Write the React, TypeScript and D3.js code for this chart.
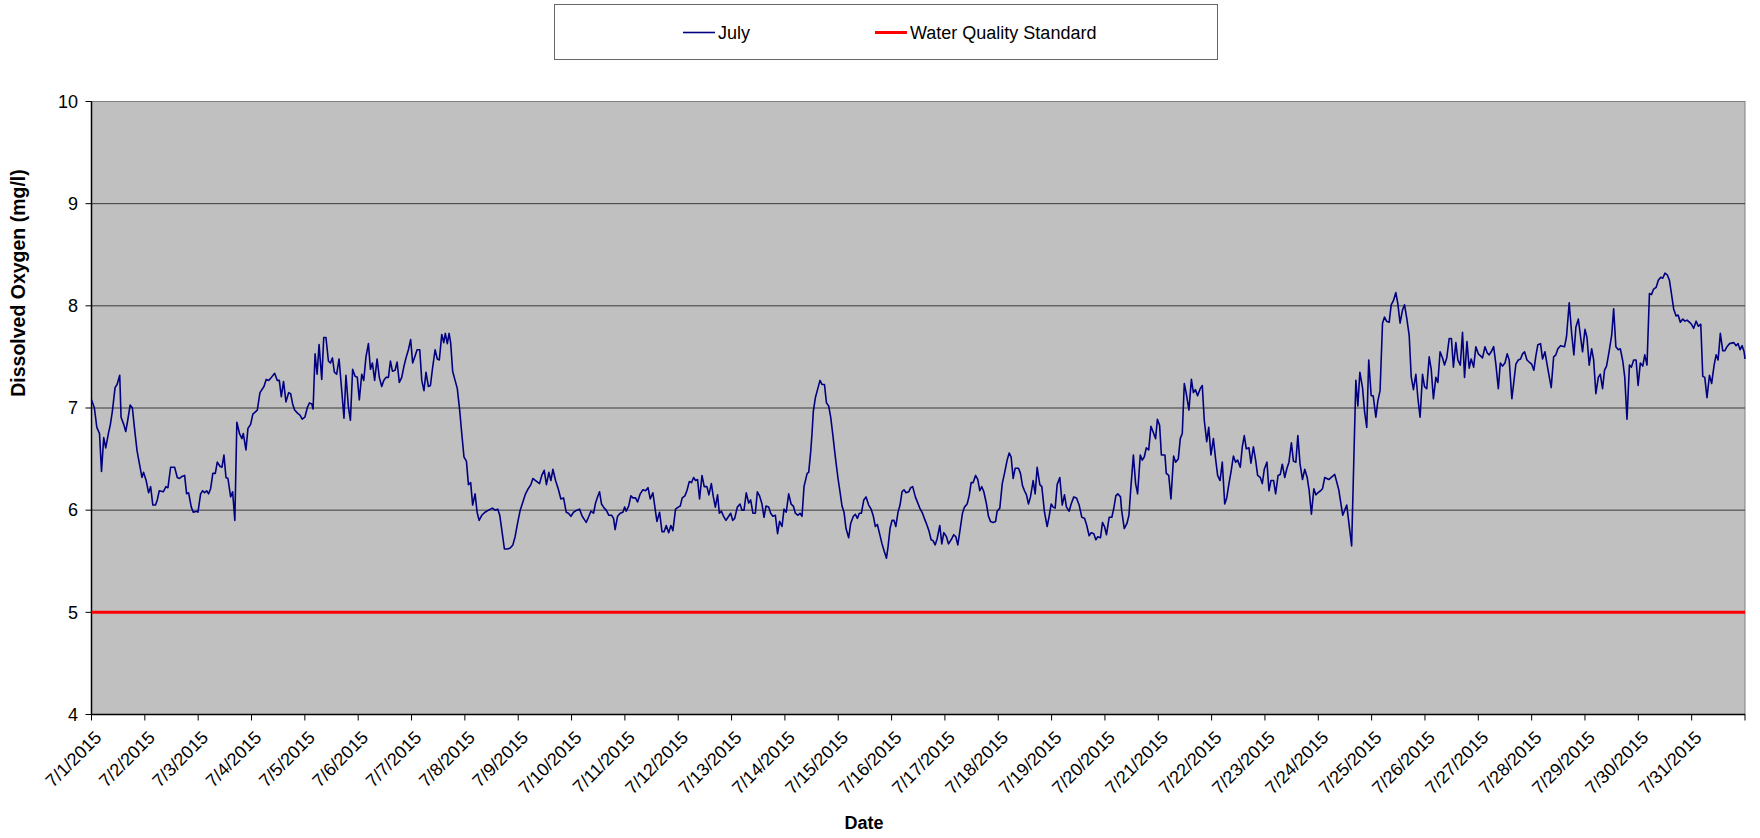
import React, { useEffect, useRef } from 'react';
import * as d3 from 'd3';

// readings: hours since 7/1/2015 00:00 and dissolved oxygen (mg/l)
const hoursFromStart = [
   0, 1.3, 2.4, 3.6, 4.5, 5.5, 6.4, 7.6, 8.5, 9.4, 10.6, 11.5, 12.7, 13.3, 14.5, 15.4, 16.3, 17.4, 18.4, 19.3,
   20.5, 21.6, 22.7, 23.4, 24.6, 25.7, 26.6, 27.6, 28.8, 29.6, 30.5, 32.3, 33.5, 34.4, 35.6, 37.4, 38.6, 39.6, 40.7, 41.9,
   42.8, 43.7, 44.9, 45.8, 47.3, 47.9, 49.1, 50.0, 50.9, 51.8, 52.7, 53.6, 54.6, 55.7, 56.6, 57.8, 58.7, 59.6, 60.5, 61.4,
   62.6, 63.5, 64.5, 65.4, 66.6, 67.7, 68.3, 69.5, 70.4, 71.6, 72.6, 74.6, 75.8, 77.6, 78.6, 79.7, 80.6, 82.4, 83.6, 84.5,
   85.4, 86.4, 87.5, 88.7, 89.6, 90.5, 91.4, 92.7, 93.8, 94.8, 96.0, 97.2, 98.1, 99.1, 99.7, 100.6, 101.5, 102.4, 103.6, 104.5,
   105.5, 106.6, 107.5, 108.4, 109.3, 110.3, 111.4, 112.6, 113.6, 114.5, 115.6, 116.5, 117.5, 118.6, 119.6, 120.5, 121.6, 122.5, 123.5, 124.6,
   125.5, 126.4, 127.4, 128.5, 129.5, 130.6, 131.5, 132.5, 133.6, 134.5, 135.4, 136.6, 137.5, 138.5, 139.6, 140.6, 141.5, 142.6, 143.6, 144.5,
   145.6, 146.5, 147.7, 148.6, 149.6, 150.5, 151.6, 152.5, 153.4, 154.6, 155.6, 156.5, 157.6, 158.5, 159.2, 160.1, 160.9, 161.6, 162.5, 163.6,
   164.6, 165.7, 166.6, 167.6, 168.7, 169.6, 170.6, 171.5, 172.6, 173.5, 174.4, 175.6, 177.1, 178.6, 180.4, 181.6, 182.8, 183.7, 184.6, 185.8,
   187.2, 188.4, 189.6, 190.6, 191.7, 192.9, 194.1, 195.3, 196.5, 197.7, 198.6, 199.8, 201.6, 202.6, 203.7, 204.7, 205.8, 206.7, 207.6, 208.8,
   210.0, 211.2, 212.4, 213.6, 214.6, 215.7, 216.9, 218.4, 219.6, 220.8, 221.7, 222.6, 223.8, 224.7, 225.9, 226.8, 227.7, 228.6, 229.5, 230.7,
   231.6, 232.8, 234.0, 234.9, 235.6, 236.7, 237.9, 239.1, 239.9, 240.6, 241.7, 242.7, 243.6, 244.8, 245.7, 246.9, 248.1, 249.3, 250.4, 251.4,
   252.6, 253.5, 254.4, 255.6, 256.7, 257.7, 258.6, 259.7, 260.7, 261.6, 262.8, 264.0, 264.9, 265.8, 267.0, 267.9, 269.0, 270.0, 270.9, 271.8,
   272.7, 273.6, 274.7, 275.7, 276.9, 277.8, 278.9, 279.8, 280.7, 281.7, 282.5, 283.4, 284.4, 285.5, 286.7, 287.6, 288.5, 289.4, 290.6, 291.8,
   292.7, 293.6, 294.6, 295.7, 296.6, 297.6, 298.7, 299.6, 300.6, 301.7, 302.6, 303.5, 304.7, 305.6, 306.6, 307.7, 308.7, 309.6, 310.7, 311.6,
   312.6, 313.7, 314.8, 315.8, 316.7, 317.9, 318.8, 319.7, 320.6, 322.0, 322.7, 323.6, 324.2, 324.8, 325.7, 326.8, 327.8, 328.7, 329.8, 330.7,
   331.7, 332.6, 333.5, 334.7, 335.9, 336.8, 337.7, 338.6, 339.5, 340.7, 341.6, 342.8, 343.7, 344.6, 345.5, 346.4, 347.5, 348.5, 349.7, 350.8,
   351.8, 352.7, 353.6, 354.7, 355.7, 356.8, 357.7, 358.4, 359.3, 360.2, 361.1, 361.9, 362.9, 363.8, 364.7, 365.6, 366.5, 367.7, 368.6, 369.5,
   370.7, 372.7, 373.9, 375.1, 376.0, 376.9, 377.8, 378.7, 379.6, 380.5, 381.7, 382.6, 383.5, 384.7, 385.6, 386.8, 388.0, 388.9, 389.8, 390.7,
   391.9, 392.8, 394.0, 394.9, 395.8, 396.7, 397.8, 398.8, 399.7, 400.6, 401.5, 402.7, 403.6, 404.5, 405.7, 406.8, 407.5, 408.7, 409.8, 410.8,
   412.0, 412.9, 413.8, 414.7, 415.6, 417.1, 418.0, 418.9, 419.8, 420.7, 421.6, 422.5, 423.7, 424.6, 425.5, 426.7, 427.6, 428.8, 430.0, 430.9,
   431.8, 432.7, 433.6, 434.5, 435.7, 436.8, 437.8, 438.7, 439.9, 440.8, 442.0, 443.2, 444.4, 445.6, 446.8, 447.7, 448.9, 449.8, 451.0, 451.9,
   452.8, 454.0, 454.9, 455.8, 456.7, 457.9, 459.1, 460.0, 460.9, 461.8, 463.0, 463.5, 464.7, 465.9, 466.8, 467.7, 468.8, 469.8, 470.7, 471.9,
   472.8, 473.7, 474.6, 475.7, 476.7, 477.6, 478.8, 479.6, 480.6, 481.4, 483.0, 483.6, 484.7, 485.7, 486.9, 487.8, 489.0, 489.9, 490.8, 491.7,
   492.6, 493.8, 494.9, 495.8, 496.7, 497.7, 498.9, 499.8, 500.7, 501.8, 502.7, 503.7, 504.8, 505.8, 506.7, 507.8, 508.8, 509.9, 510.8, 511.8,
   512.7, 513.8, 514.8, 515.7, 516.9, 517.8, 518.7, 519.6, 520.8, 521.7, 522.8, 523.8, 524.7, 525.9, 526.8, 527.7, 528.9, 529.8, 530.7, 531.9,
   532.8, 533.9, 534.9, 535.8, 536.9, 537.9, 538.8, 539.9, 540.8, 541.9, 542.8, 543.8, 544.9, 545.9, 547.0, 547.9, 548.9, 550.0, 550.9, 551.8,
   553.0, 553.9, 554.9, 556.7, 559.4, 561.2, 563.0, 564.8, 567.0, 568.9, 569.8, 570.7, 571.9, 572.8, 573.8, 574.7, 575.8, 576.7, 577.9, 578.8,
   579.8, 580.9, 581.8, 582.7, 583.9, 584.8, 585.8, 586.9, 587.8, 588.8, 589.9, 590.8, 591.8, 592.9, 593.8, 594.8, 595.9, 596.8, 597.8, 598.9,
   599.8, 600.8, 601.9, 602.8, 603.8, 604.9, 605.8, 606.8, 607.9, 608.8, 609.8, 610.9, 611.9, 612.8, 613.9, 614.8, 615.9, 616.9, 617.8, 618.9,
   619.9, 620.8, 621.9, 622.9, 624.0, 625.0, 625.9, 627.0, 628.0, 628.9, 629.8, 630.9, 631.9, 633.0, 633.9, 634.9, 636.0, 637.0, 637.9, 639.1,
   639.9, 640.9, 642.0, 643.0, 643.9, 644.8, 645.9, 646.9, 648.0, 649.0, 649.9, 650.8, 652.0, 652.9, 654.0, 655.0, 655.9, 656.8, 657.9, 658.9,
   659.8, 661.0, 662.8, 663.7, 664.9, 666.0, 667.0, 667.9, 669.0, 670.0, 670.9, 672.0, 672.9, 673.9, 675.0, 675.9, 676.9, 678.0, 678.9, 679.9,
   680.8, 681.7, 682.9, 684.0, 684.9, 685.9, 687.0, 687.9, 689.0, 689.9, 690.9, 692.0, 692.9, 693.9, 695.0, 695.9, 696.9, 698.0, 698.9, 699.9,
   701.0, 701.9, 702.8, 704.0, 705.0, 706.1, 707.0, 708.0, 709.1, 710.0, 710.9, 711.9, 713.0, 713.9, 714.9, 716.0, 717.0, 717.9, 719.0, 719.9,
   720.9, 722.0, 723.0, 724.1, 725.0, 725.9, 726.9, 728.0, 729.0, 730.1, 731.0, 731.9, 732.9, 734.0, 734.9, 735.9, 737.0, 738.9, 740.0, 740.9,
   741.8, 742.7, 743.6, 744.0
];

const dissolvedOxygen = [
   7.08, 7.0, 6.81, 6.75, 6.38, 6.71, 6.61, 6.75, 6.84, 6.97, 7.2, 7.23, 7.32, 6.91, 6.84, 6.77, 6.88, 7.03, 7.0, 6.81,
   6.58, 6.45, 6.32, 6.37, 6.29, 6.17, 6.23, 6.05, 6.05, 6.10, 6.19, 6.18, 6.23, 6.22, 6.42, 6.42, 6.32, 6.31, 6.33, 6.34,
   6.16, 6.17, 6.03, 5.98, 5.99, 5.98, 6.16, 6.19, 6.17, 6.19, 6.16, 6.21, 6.36, 6.36, 6.47, 6.43, 6.42, 6.54, 6.32, 6.31,
   6.13, 6.18, 5.90, 6.86, 6.75, 6.70, 6.75, 6.59, 6.80, 6.84, 6.94, 6.98, 7.15, 7.21, 7.28, 7.27, 7.29, 7.34, 7.27, 7.27,
   7.11, 7.26, 7.06, 7.15, 7.14, 7.04, 6.98, 6.95, 6.93, 6.89, 6.91, 7.01, 7.05, 7.04, 6.99, 7.53, 7.33, 7.62, 7.28, 7.69,
   7.69, 7.46, 7.44, 7.49, 7.35, 7.33, 7.48, 7.17, 6.90, 7.32, 7.01, 6.88, 7.38, 7.31, 7.30, 7.08, 7.33, 7.27, 7.50, 7.63,
   7.38, 7.44, 7.27, 7.48, 7.30, 7.21, 7.27, 7.30, 7.30, 7.46, 7.36, 7.37, 7.45, 7.25, 7.30, 7.41, 7.49, 7.57, 7.67, 7.44,
   7.51, 7.57, 7.57, 7.27, 7.17, 7.35, 7.21, 7.22, 7.38, 7.57, 7.48, 7.47, 7.72, 7.64, 7.73, 7.63, 7.73, 7.64, 7.36, 7.27,
   7.19, 6.97, 6.75, 6.52, 6.48, 6.25, 6.27, 6.05, 6.16, 5.98, 5.90, 5.95, 5.98, 6.00, 6.02, 6.00, 6.01, 5.95, 5.81, 5.62,
   5.62, 5.63, 5.66, 5.74, 5.87, 6.00, 6.08, 6.16, 6.21, 6.25, 6.31, 6.29, 6.26, 6.34, 6.39, 6.25, 6.37, 6.29, 6.40, 6.29,
   6.21, 6.11, 6.12, 5.98, 5.97, 5.94, 5.98, 6.00, 6.01, 5.94, 5.91, 5.88, 5.94, 5.99, 5.97, 6.07, 6.13, 6.18, 6.06, 6.02,
   6.00, 5.95, 5.95, 5.92, 5.81, 5.94, 5.97, 5.98, 6.03, 5.99, 6.04, 6.14, 6.12, 6.12, 6.08, 6.16, 6.20, 6.19, 6.22, 6.11,
   6.17, 6.03, 5.89, 5.98, 5.79, 5.79, 5.85, 5.78, 5.85, 5.80, 6.01, 6.03, 6.04, 6.12, 6.14, 6.19, 6.28, 6.27, 6.32, 6.29,
   6.30, 6.11, 6.34, 6.23, 6.23, 6.15, 6.26, 6.13, 6.03, 6.15, 5.97, 5.99, 5.94, 5.90, 5.94, 5.97, 5.90, 5.92, 6.03, 6.06,
   6.00, 6.00, 6.17, 6.07, 6.10, 5.97, 5.97, 6.18, 6.14, 6.06, 5.93, 6.04, 6.03, 5.97, 5.94, 5.95, 5.77, 5.89, 5.84, 6.01,
   5.98, 6.16, 6.06, 6.04, 5.97, 5.95, 5.97, 5.94, 6.23, 6.36, 6.37, 6.57, 6.75, 6.97, 7.10, 7.19, 7.27, 7.23, 7.23, 7.05,
   7.02, 6.91, 6.75, 6.52, 6.31, 6.18, 6.04, 5.98, 5.82, 5.73, 5.87, 5.94, 5.96, 5.92, 5.97, 5.97, 6.10, 6.13, 6.05, 6.01,
   5.94, 5.84, 5.86, 5.76, 5.67, 5.59, 5.53, 5.64, 5.82, 5.90, 5.90, 5.84, 5.98, 6.05, 6.18, 6.20, 6.17, 6.18, 6.22, 6.23,
   6.13, 6.02, 5.97, 5.90, 5.85, 5.79, 5.71, 5.70, 5.66, 5.72, 5.85, 5.67, 5.78, 5.74, 5.67, 5.71, 5.76, 5.74, 5.66, 5.79,
   5.97, 6.03, 6.06, 6.14, 6.27, 6.27, 6.34, 6.30, 6.19, 6.23, 6.18, 6.06, 5.94, 5.89, 5.88, 5.89, 5.99, 6.02, 6.26, 6.36,
   6.49, 6.56, 6.52, 6.31, 6.41, 6.41, 6.36, 6.24, 6.19, 6.15, 6.06, 6.13, 6.29, 6.16, 6.42, 6.25, 6.23, 5.98, 5.84, 5.94,
   6.06, 6.03, 6.02, 6.25, 6.32, 6.05, 6.15, 6.03, 5.99, 6.06, 6.13, 6.12, 6.05, 5.93, 5.92, 5.86, 5.75, 5.78, 5.77, 5.71,
   5.74, 5.73, 5.88, 5.84, 5.76, 5.93, 5.93, 6.02, 6.14, 6.16, 6.13, 6.00, 5.82, 5.87, 5.95, 6.23, 6.54, 6.26, 6.16, 6.54,
   6.49, 6.52, 6.61, 6.59, 6.82, 6.77, 6.70, 6.89, 6.83, 6.54, 6.54, 6.36, 6.34, 6.11, 6.53, 6.47, 6.50, 6.70, 6.75, 7.24,
   7.14, 6.98, 7.28, 7.15, 7.18, 7.12, 7.19, 7.22, 6.88, 6.67, 6.81, 6.54, 6.70, 6.50, 6.34, 6.29, 6.47, 6.06, 6.12, 6.26,
   6.37, 6.53, 6.47, 6.49, 6.42, 6.62, 6.73, 6.60, 6.61, 6.46, 6.62, 6.49, 6.34, 6.32, 6.26, 6.40, 6.47, 6.19, 6.29, 6.29,
   6.16, 6.34, 6.35, 6.45, 6.32, 6.41, 6.47, 6.66, 6.48, 6.47, 6.73, 6.45, 6.30, 6.40, 6.32, 6.19, 5.96, 6.21, 6.15, 6.17,
   6.19, 6.21, 6.32, 6.30, 6.35, 6.20, 5.95, 6.05, 5.65, 7.27, 7.02, 7.35, 7.20, 6.97, 6.81, 7.47, 7.12, 7.12, 6.91, 7.07,
   7.17, 7.83, 7.89, 7.85, 7.84, 8.01, 8.05, 8.13, 8.02, 7.83, 7.96, 8.01, 7.88, 7.71, 7.31, 7.18, 7.33, 7.10, 6.91, 7.33,
   7.21, 7.19, 7.50, 7.38, 7.09, 7.30, 7.25, 7.55, 7.49, 7.42, 7.49, 7.68, 7.68, 7.40, 7.64, 7.47, 7.42, 7.74, 7.30, 7.65,
   7.39, 7.48, 7.40, 7.60, 7.53, 7.51, 7.49, 7.60, 7.54, 7.52, 7.55, 7.60, 7.43, 7.19, 7.44, 7.41, 7.44, 7.53, 7.47, 7.09,
   7.24, 7.43, 7.47, 7.48, 7.53, 7.55, 7.47, 7.45, 7.43, 7.37, 7.51, 7.62, 7.63, 7.48, 7.55, 7.42, 7.31, 7.20, 7.50, 7.52,
   7.58, 7.61, 7.60, 7.70, 8.03, 7.73, 7.52, 7.79, 7.87, 7.70, 7.55, 7.77, 7.69, 7.42, 7.58, 7.47, 7.14, 7.30, 7.33, 7.19,
   7.37, 7.41, 7.56, 7.71, 7.97, 7.60, 7.57, 7.58, 7.46, 7.30, 6.89, 7.42, 7.40, 7.47, 7.47, 7.22, 7.44, 7.41, 7.52, 7.42,
   8.12, 8.11, 8.16, 8.18, 8.25, 8.28, 8.27, 8.32, 8.30, 8.25, 8.12, 7.97, 7.90, 7.91, 7.84, 7.87, 7.85, 7.86, 7.84, 7.82,
   7.78, 7.85, 7.80, 7.82, 7.31, 7.30, 7.10, 7.32, 7.24, 7.42, 7.52, 7.47, 7.73, 7.56, 7.56, 7.60, 7.63, 7.64, 7.61, 7.63,
   7.57, 7.61, 7.55, 7.48
];

const yTicks = [4, 5, 6, 7, 8, 9, 10];
const waterQualityStandard = 5;
const seriesNames = ['July', 'Water Quality Standard'];
const monthStart = new Date(2015, 6, 1);
const monthEnd = new Date(2015, 7, 1);

const App = () => {
   const svgRef = useRef(null);

   useEffect(() => {
      const svg = d3.select(svgRef.current);
      svg.selectAll('*').remove();

      const left = 91.5, right = 1745, top = 101.5, bottom = 714.5;
      const font = 'Liberation Sans, Arial, sans-serif';

      const x = d3.scaleTime().domain([monthStart, monthEnd]).range([left, right]);
      const y = d3.scaleLinear().domain([4, 10]).range([bottom, top]);

      const data = hoursFromStart.map((h, i) => ({
         t: new Date(monthStart.getTime() + h * 3600 * 1000),
         v: dissolvedOxygen[i]
      }));

      // plot area
      svg.append('rect')
         .attr('x', left).attr('y', top)
         .attr('width', right - left).attr('height', bottom - top)
         .attr('fill', '#c0c0c0')
         .attr('stroke', '#808080')
         .attr('stroke-width', 1);

      // gridlines
      svg.append('g')
         .selectAll('line')
         .data(yTicks.filter(d => d > 4 && d < 10))
         .enter()
         .append('line')
         .attr('x1', left).attr('x2', right)
         .attr('y1', d => y(d)).attr('y2', d => y(d))
         .attr('stroke', '#3a3a3a')
         .attr('stroke-width', 1);

      // y axis
      const yAxis = svg.append('g');
      yAxis.append('line')
         .attr('x1', left).attr('x2', left).attr('y1', top).attr('y2', bottom)
         .attr('stroke', '#000').attr('stroke-width', 1.5);
      yAxis.selectAll('.tick')
         .data(yTicks)
         .enter()
         .append('line')
         .attr('x1', left - 6).attr('x2', left)
         .attr('y1', d => y(d)).attr('y2', d => y(d))
         .attr('stroke', '#000');
      yAxis.selectAll('text')
         .data(yTicks)
         .enter()
         .append('text')
         .attr('x', 78).attr('y', d => y(d))
         .attr('dy', '0.35em')
         .attr('text-anchor', 'end')
         .attr('font-family', font)
         .attr('font-size', 18)
         .attr('fill', '#000')
         .text(d => d);

      // x axis
      const days = d3.timeDay.range(monthStart, monthEnd);
      const fmt = d3.timeFormat('%-m/%-d/%Y');
      const xAxis = svg.append('g');
      xAxis.append('line')
         .attr('x1', left).attr('x2', right).attr('y1', bottom).attr('y2', bottom)
         .attr('stroke', '#000').attr('stroke-width', 1.5);
      xAxis.selectAll('.tick')
         .data([...days, monthEnd])
         .enter()
         .append('line')
         .attr('x1', d => x(d)).attr('x2', d => x(d))
         .attr('y1', bottom).attr('y2', bottom + 6)
         .attr('stroke', '#000');
      xAxis.selectAll('text')
         .data(days)
         .enter()
         .append('text')
         .attr('transform', d => `translate(${x(d) + 2},${bottom + 15}) rotate(-45)`)
         .attr('dy', '0.72em')
         .attr('text-anchor', 'end')
         .attr('font-family', font)
         .attr('font-size', 18)
         .attr('fill', '#000')
         .text(d => fmt(d));

      // standard line
      svg.append('line')
         .attr('x1', left).attr('x2', right)
         .attr('y1', y(waterQualityStandard)).attr('y2', y(waterQualityStandard))
         .attr('stroke', '#ff0000')
         .attr('stroke-width', 3);

      // July series
      const line = d3.line()
         .x(d => x(d.t))
         .y(d => y(d.v));
      svg.append('path')
         .datum(data)
         .attr('d', line)
         .attr('fill', 'none')
         .attr('stroke', '#000080')
         .attr('stroke-width', 1.6)
         .attr('stroke-linejoin', 'round');

      // axis titles
      svg.append('text')
         .attr('transform', 'translate(25,283) rotate(-90)')
         .attr('text-anchor', 'middle')
         .attr('font-family', font)
         .attr('font-size', 19.5)
         .attr('font-weight', 'bold')
         .text('Dissolved Oxygen (mg/l)');
      svg.append('text')
         .attr('x', 864).attr('y', 829)
         .attr('text-anchor', 'middle')
         .attr('font-family', font)
         .attr('font-size', 18)
         .attr('font-weight', 'bold')
         .text('Date');

      // legend
      const legend = svg.append('g');
      legend.append('rect')
         .attr('x', 554.5).attr('y', 4.5)
         .attr('width', 663).attr('height', 55)
         .attr('fill', '#fff')
         .attr('stroke', '#666');
      const legendItems = [
         { name: seriesNames[0], color: '#000080', width: 1.6, x: 683 },
         { name: seriesNames[1], color: '#ff0000', width: 3, x: 875 }
      ];
      legendItems.forEach(item => {
         legend.append('line')
            .attr('x1', item.x).attr('x2', item.x + 32)
            .attr('y1', 32.5).attr('y2', 32.5)
            .attr('stroke', item.color)
            .attr('stroke-width', item.width);
         legend.append('text')
            .attr('x', item.x + 35).attr('y', 32.5)
            .attr('dy', '0.35em')
            .attr('font-family', font)
            .attr('font-size', 18)
            .text(item.name);
      });
   }, []);

   return (
      <svg
         ref={svgRef}
         width={1760}
         height={838}
         style={{ position: 'absolute', left: 0, top: 0, display: 'block', background: '#fff' }}
      />
   );
};

export default App;
